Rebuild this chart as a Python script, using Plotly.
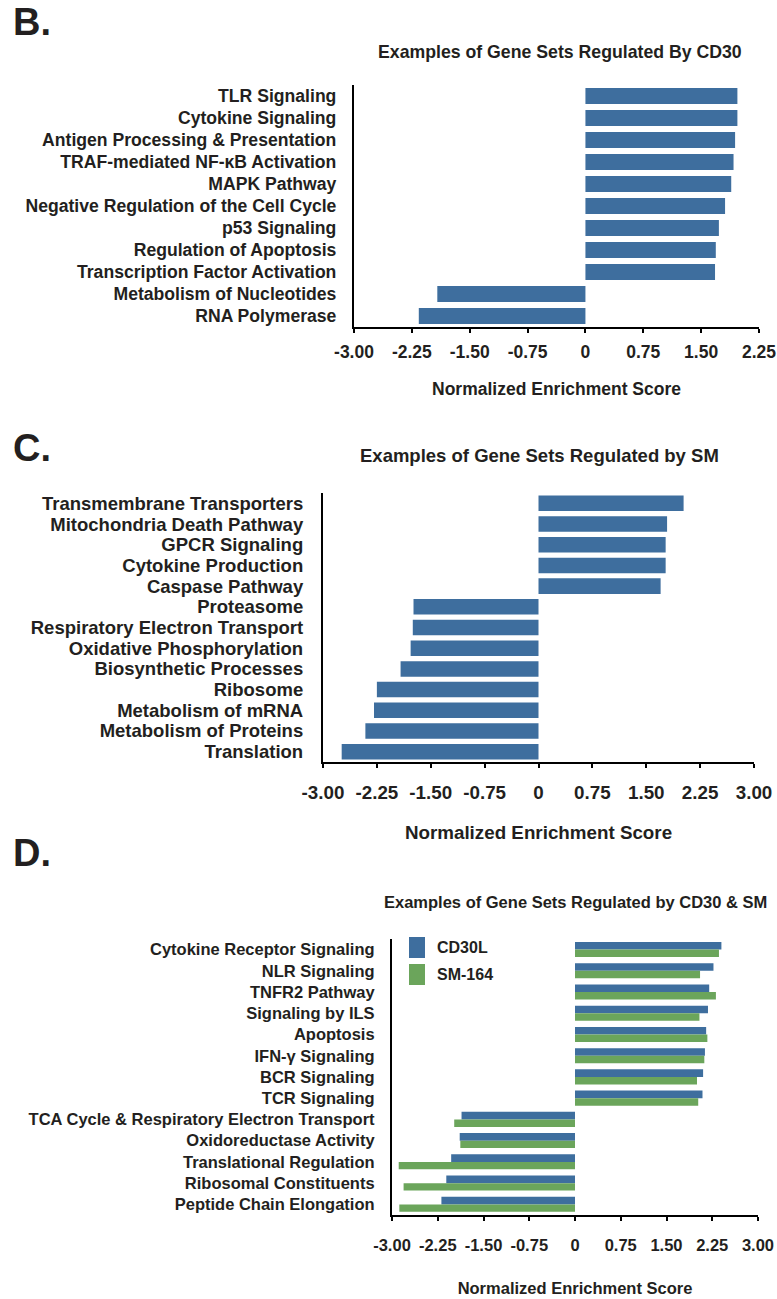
import plotly.graph_objects as go

# ---------------- data ----------------
b_labels = ["TLR Signaling", "Cytokine Signaling", "Antigen Processing & Presentation",
            "TRAF-mediated NF-κB Activation", "MAPK Pathway",
            "Negative Regulation of the Cell Cycle", "p53 Signaling",
            "Regulation of Apoptosis", "Transcription Factor Activation",
            "Metabolism of Nucleotides", "RNA Polymerase"]
b_values = [1.97, 1.97, 1.94, 1.92, 1.89, 1.81, 1.73, 1.69, 1.68, -1.92, -2.16]

c_labels = ["Transmembrane Transporters", "Mitochondria Death Pathway", "GPCR Signaling",
            "Cytokine Production", "Caspase Pathway", "Proteasome",
            "Respiratory Electron Transport", "Oxidative Phosphorylation",
            "Biosynthetic Processes", "Ribosome", "Metabolism of mRNA",
            "Metabolism of Proteins", "Translation"]
c_values = [2.02, 1.79, 1.77, 1.77, 1.70, -1.74, -1.75, -1.78, -1.92, -2.25, -2.29, -2.41, -2.74]

d_labels = ["Cytokine Receptor Signaling", "NLR Signaling", "TNFR2 Pathway", "Signaling by ILS",
            "Apoptosis", "IFN-γ Signaling", "BCR Signaling", "TCR Signaling",
            "TCA Cycle & Respiratory Electron Transport", "Oxidoreductase Activity",
            "Translational Regulation", "Ribosomal Constituents", "Peptide Chain Elongation"]
d_cd30l = [2.40, 2.27, 2.20, 2.18, 2.15, 2.13, 2.10, 2.09, -1.86, -1.89, -2.03, -2.11, -2.19]
d_sm164 = [2.36, 2.05, 2.31, 2.04, 2.17, 2.12, 2.00, 2.02, -1.98, -1.88, -2.89, -2.81, -2.88]
d_series = ["CD30L", "SM-164"]

b_ticks = [-3.0, -2.25, -1.5, -0.75, 0, 0.75, 1.5, 2.25]
cd_ticks = [-3.0, -2.25, -1.5, -0.75, 0, 0.75, 1.5, 2.25, 3.0]
b_ticktext = ["-3.00", "-2.25", "-1.50", "-0.75", "0", "0.75", "1.50", "2.25"]
cd_ticktext = ["-3.00", "-2.25", "-1.50", "-0.75", "0", "0.75", "1.50", "2.25", "3.00"]

axis_title = "Normalized Enrichment Score"
titles = ["Examples of Gene Sets Regulated By CD30",
          "Examples of Gene Sets Regulated by SM",
          "Examples of Gene Sets Regulated by CD30 & SM"]
panel_letters = ["B.", "C.", "D."]

# ---------------- style ----------------
W, H = 777, 1299
BLUE = "#3e6e9e"
GREEN = "#6ba55b"
FONT = "Liberation Sans, Arial, Helvetica, sans-serif"
TXT = "#231f20"


def fx(p):
    return p / W


def fy(p):
    return 1 - p / H


fig = go.Figure()

fig.add_trace(go.Bar(x=b_values, y=b_labels, orientation="h", marker_color=BLUE,
                     marker_line_width=0, width=0.72, xaxis="x", yaxis="y"))
fig.add_trace(go.Bar(x=c_values, y=c_labels, orientation="h", marker_color=BLUE,
                     marker_line_width=0, width=0.75, xaxis="x2", yaxis="y2"))
fig.add_trace(go.Bar(x=d_cd30l, y=d_labels, orientation="h", marker_color=BLUE,
                     marker_line_width=0, width=0.36, offset=-0.36, name=d_series[0],
                     xaxis="x3", yaxis="y3"))
fig.add_trace(go.Bar(x=d_sm164, y=d_labels, orientation="h", marker_color=GREEN,
                     marker_line_width=0, width=0.35, offset=0.0, name=d_series[1],
                     xaxis="x3", yaxis="y3"))


def xax(domain, rng, tv, tt, size, lstand, standoff):
    return dict(domain=domain, range=rng, tickmode="array", tickvals=tv, ticktext=tt,
                showline=True, linecolor="black", linewidth=2.2,
                ticks="outside", ticklen=4, tickwidth=1.5, tickcolor="black",
                showgrid=False, zeroline=False, fixedrange=True, automargin=False,
                ticklabelstandoff=lstand,
                tickfont=dict(family=FONT, size=size, color=TXT, weight="bold"),
                title=dict(text=axis_title, standoff=standoff,
                           font=dict(family=FONT, size=size, color=TXT, weight="bold")))


def yax(domain, cats, size, anchor, stand):
    n = len(cats)
    return dict(domain=domain, type="category", categoryarray=cats,
                categoryorder="array", range=[n - 0.5, -0.5], anchor=anchor,
                tickmode="array", tickvals=cats, automargin=False,
                showline=True, linecolor="black", linewidth=2.2,
                ticks="", showgrid=False, zeroline=False, fixedrange=True,
                ticklabelstandoff=stand,
                tickfont=dict(family=FONT, size=size, color=TXT, weight="bold"))


fig.update_layout(
    template="none",
    width=W, height=H, margin=dict(l=0, r=0, t=0, b=0, autoexpand=False),
    paper_bgcolor="white", plot_bgcolor="white",
    showlegend=False, barmode="overlay",
    xaxis=dict(anchor="y", **xax([fx(354), fx(759)], [-3, 2.25], b_ticks, b_ticktext, 17.5, 4, 22)),
    yaxis=yax([fy(327), fy(85)], b_labels, 17.6, "x", 12),
    xaxis2=dict(anchor="y2", **xax([fx(323), fx(754)], [-3, 3], cd_ticks, cd_ticktext, 18.8, 8, 24)),
    yaxis2=yax([fy(762), fy(493)], c_labels, 18.5, "x2", 14),
    xaxis3=dict(anchor="y3", **xax([fx(392), fx(758)], [-3, 3], cd_ticks, cd_ticktext, 16.5, 10, 30)),
    yaxis3=yax([fy(1215), fy(939)], d_labels, 16.5, "x3", 12),
)

annotations = []
for letter, ypix in zip(panel_letters, [22, 448, 853]):
    annotations.append(dict(text=letter, x=fx(11), y=fy(ypix), xref="paper", yref="paper",
                            xanchor="left", yanchor="middle", showarrow=False,
                            font=dict(family=FONT, size=38, color=TXT, weight="bold")))
for t, xc, ypix, size in zip(titles, [560, 539, 575], [52, 456, 902], [17.7, 18.5, 16.5]):
    annotations.append(dict(text=t, x=fx(xc), y=fy(ypix), xref="paper", yref="paper",
                            xanchor="center", yanchor="middle", showarrow=False,
                            font=dict(family=FONT, size=size, color=TXT, weight="bold")))

# legend for panel D
shapes = []
for name, col, ytop in zip(d_series, [BLUE, GREEN], [937, 964]):
    shapes.append(dict(type="rect", xref="paper", yref="paper",
                       x0=fx(409), x1=fx(425), y0=fy(ytop + 21), y1=fy(ytop),
                       fillcolor=col, line=dict(width=0)))
    annotations.append(dict(text=name, x=fx(435), y=fy(ytop + 10.5), xref="paper", yref="paper",
                            xanchor="left", yanchor="middle", showarrow=False,
                            font=dict(family=FONT, size=16, color=TXT, weight="bold")))

fig.update_layout(annotations=annotations, shapes=shapes)

fig.write_html("out.html")
